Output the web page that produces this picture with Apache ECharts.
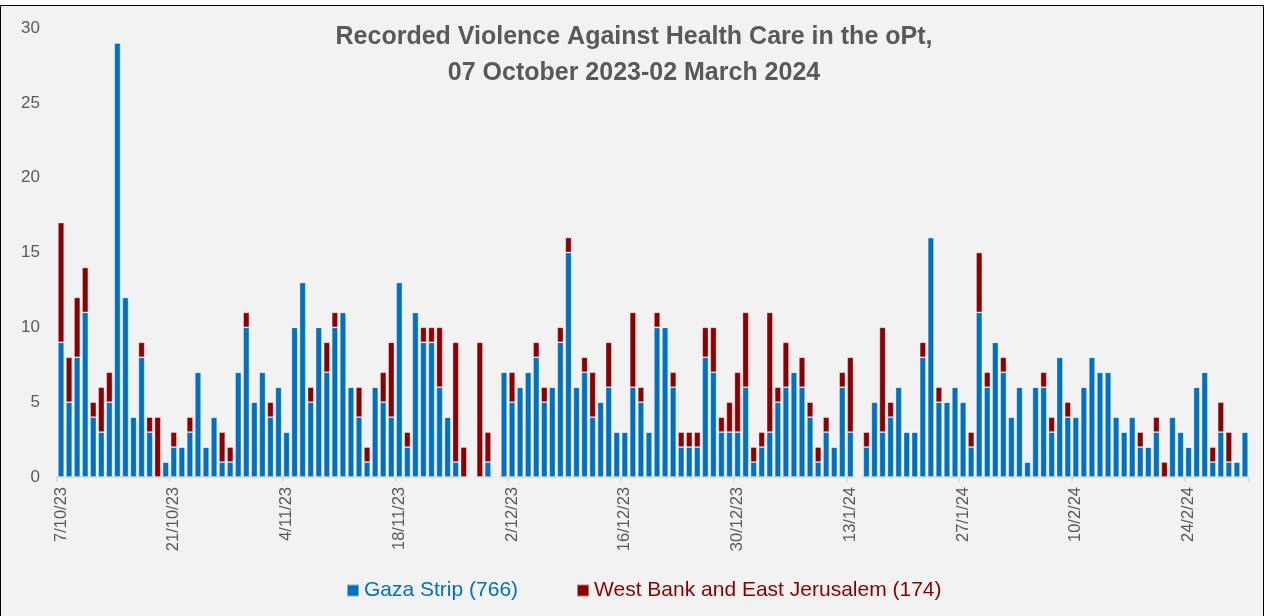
<!DOCTYPE html>
<html>
<head>
<meta charset="utf-8">
<script src="https://cdn.jsdelivr.net/npm/echarts@6/dist/echarts.min.js"></script>
<style>
  html, body { margin: 0; padding: 0; background: #ffffff; }
  #frame { position: absolute; left: 0; top: 5px; width: 1264px; height: 620px; border: 1.5px solid #000; background: #f2f2f2; box-sizing: border-box; }
  #chart { position: absolute; left: 0; top: 0; width: 1268px; height: 616px; }
</style>
</head>
<body>
<div id="frame"></div>
<div id="chart"></div>
<script>
// First date of the series and number of daily categories
const startDate = [2023, 10, 7];
const dayCount = 148;

// Daily incidents, Gaza Strip (total 766)
const gazaStrip = [
  9,5,8,11,4,3,5,29,12,4,8,3,0,
  1,2,2,3,7,2,4,1,1,7,10,5,7,
  4,6,3,10,13,5,10,7,10,11,6,4,
  1,6,5,4,13,2,11,9,9,6,4,1,
  0,0,0,1,0,7,5,6,7,8,5,6,9,
  15,6,7,4,5,6,3,3,6,5,3,10,
  10,6,2,2,2,8,7,3,3,3,6,1,
  2,3,5,6,7,6,4,1,3,2,6,3,
  0,2,5,3,4,6,3,3,8,16,5,5,6,
  5,2,11,6,9,7,4,6,1,6,6,3,8,
  4,4,6,8,7,7,4,3,4,2,2,3,
  0,4,3,2,6,7,1,3,1,1,3
];

// Daily incidents, West Bank and East Jerusalem (total 174)
const westBank = [
  8,3,4,3,1,3,2,0,0,0,1,1,4,
  0,1,0,1,0,0,0,2,1,0,1,0,0,
  1,0,0,0,0,1,0,2,1,0,0,2,
  1,0,2,5,0,1,0,1,1,4,0,8,
  2,0,9,2,0,0,2,0,0,1,1,0,1,
  1,0,1,3,0,3,0,0,5,1,0,1,
  0,1,1,1,1,2,3,1,2,4,5,1,
  1,8,1,3,0,2,1,1,1,0,1,5,
  0,1,0,7,1,0,0,0,1,0,1,0,0,
  0,1,4,1,0,1,0,0,0,0,1,1,0,
  1,0,0,0,0,0,0,0,0,1,0,1,
  1,0,0,0,0,0,1,2,2,0,0
];

const seriesNames = ['Gaza Strip (766)', 'West Bank and East Jerusalem (174)'];
const yTicks = { min: 0, max: 30, interval: 5 };

// Category labels d/m/yy
const categories = [];
for (let i = 0; i < dayCount; i++) {
  const d = new Date(startDate[0], startDate[1] - 1, startDate[2] + i);
  categories.push(d.getDate() + '/' + (d.getMonth() + 1) + '/' + String(d.getFullYear()).slice(2));
}

const FONT = "'Liberation Sans Narrow', 'Arial Narrow', 'Liberation Sans', Arial, sans-serif";
const chart = echarts.init(document.getElementById('chart'), null, { renderer: 'canvas' });
chart.setOption({
  backgroundColor: 'transparent',
  animation: false,
  title: {
    text: 'Recorded Violence Against Health Care in the oPt,\n07 October 2023-02 March 2024',
    left: 'center',
    top: 14,
    textStyle: { fontFamily: FONT, fontSize: 25, fontWeight: 'bold', color: '#595959', lineHeight: 36 }
  },
  legend: {
    bottom: 10,
    left: 341,
    icon: 'rect',
    itemWidth: 12,
    itemHeight: 12,
    itemGap: 58,
    textStyle: { fontFamily: FONT, fontSize: 21, rich: {} },
    data: [
      { name: seriesNames[0], textStyle: { color: '#0070C0' } },
      { name: seriesNames[1], textStyle: { color: '#8B0000' } }
    ]
  },
  grid: { left: 57, right: 19, top: 28, bottom: 139, containLabel: false },
  xAxis: {
    type: 'category',
    data: categories,
    boundaryGap: true,
    axisLine: { show: true, lineStyle: { color: '#d9d9d9', width: 1.5 } },
    axisTick: { show: true, interval: 13, length: 5, lineStyle: { color: '#d9d9d9', width: 1.5 } },
    axisLabel: { interval: 13, rotate: 90, fontFamily: FONT, fontSize: 16.5, color: '#595959', margin: 10 }
  },
  yAxis: {
    type: 'value',
    min: yTicks.min,
    max: yTicks.max,
    interval: yTicks.interval,
    axisLine: { show: false },
    axisTick: { show: false },
    splitLine: { show: false },
    axisLabel: { fontFamily: FONT, fontSize: 17, color: '#595959', margin: 17 }
  },
  series: [
    {
      name: seriesNames[0], type: 'bar', stack: 'total', data: gazaStrip,
      barCategoryGap: '22%',
      itemStyle: { color: '#0070C0', borderColor: 'rgba(255,255,255,0.45)', borderWidth: 0.8 }
    },
    {
      name: seriesNames[1], type: 'bar', stack: 'total', data: westBank,
      barCategoryGap: '22%',
      itemStyle: { color: '#8B0000', borderColor: 'rgba(255,255,255,0.45)', borderWidth: 0.8 }
    }
  ]
});
</script>
</body>
</html>
